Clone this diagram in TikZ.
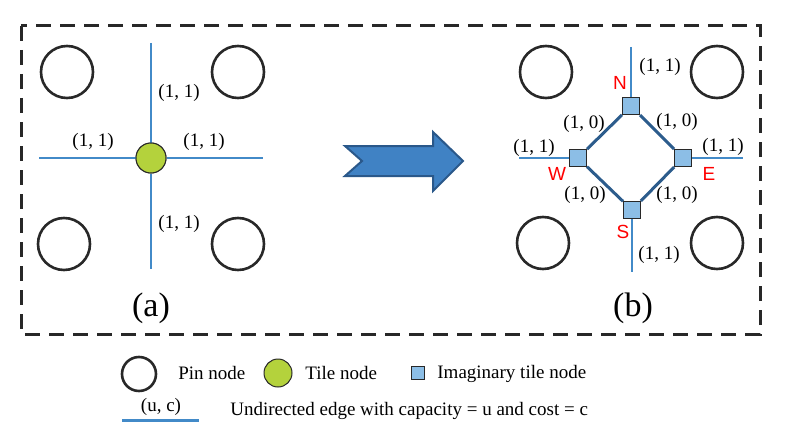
\documentclass[tikz,border=0pt]{standalone}
\usepackage{fontspec}
\setmainfont{Liberation Serif}
\newfontfamily\dirfont{Liberation Sans}
\usepackage{tikz}
\usetikzlibrary{positioning,calc}
\definecolor{edgeblue}{RGB}{66,138,200}
\definecolor{ringblue}{RGB}{44,92,140}
\definecolor{boxblue}{RGB}{140,190,230}
\definecolor{tilegreen}{RGB}{180,210,60}
\definecolor{arrowblue}{RGB}{64,130,196}
\definecolor{arrowrim}{RGB}{42,88,138}
\definecolor{rimgray}{RGB}{40,40,40}
\tikzset{
  pin/.style={circle,draw=rimgray,line width=1.3pt,minimum size=26pt,inner sep=0pt},
  tile/.style={circle,draw=rimgray,line width=0.5pt,fill=tilegreen,minimum size=15pt,inner sep=0pt},
  imag/.style={rectangle,draw=rimgray,line width=0.5pt,fill=boxblue,minimum size=8.5pt,inner sep=0pt},
  edge/.style={draw=edgeblue,line width=1.1pt},
  ring/.style={draw=ringblue,line width=1.5pt},
  weight/.style={font=\fontsize{9.5}{11}\selectfont,inner sep=0pt},
  dir/.style={font=\dirfont\fontsize{9.5}{11}\selectfont,text=red,inner sep=0pt},
  panel/.style={font=\fontsize{17}{19}\selectfont,inner sep=0pt}
}
\begin{document}
\begin{tikzpicture}[x=0.5pt,y=-0.5pt]
\useasboundingbox (0,0) rectangle (791,433);
% frame
\draw[rimgray,line width=1.5pt,dash pattern=on 7.5pt off 4.5pt] (21,26) rectangle (760,334);

% (a)
\node[tile] (t) at (151,158) {};
\coordinate (aN) at (151,43);
\coordinate (aS) at (151,269);
\coordinate (aW) at (39,158);
\coordinate (aE) at (263,158);
\draw[edge] (aN) -- (t) -- (aS);
\draw[edge] (aW) -- (t) -- (aE);
\node[tile] at (t) {};
\node[pin] (p1) at (67,72) {};
\node[pin] (p2) at (238,72) {};
\node[pin] (p3) at (64,244) {};
\node[pin] (p4) at (238,244) {};
\node[weight] at (179,93) {(1, 1)};
\node[weight] at (93,142) {(1, 1)};
\node[weight] at (204,142) {(1, 1)};
\node[weight] at (179,224) {(1, 1)};
\node[panel] at (151,308) {(a)};

% arrow
\draw[fill=arrowblue,draw=arrowrim,line width=1pt,line join=miter]
  (345,146) -- (433,146) -- (433,132) -- (463,161) -- (433,191)
  -- (433,176) -- (345,176) -- (362,161) -- cycle;

% (b)
\node[imag] (n) at (631,106) {};
\node[imag] (w) at (578,158) {};
\node[imag] (e) at (683,158) {};
\node[imag] (s) at (632,210) {};
\coordinate (bN) at (631,47);
\coordinate (bS) at (632,272);
\coordinate (bW) at (519,158);
\coordinate (bE) at (743,158);
\draw[edge] (bN) -- (n);
\draw[edge] (s) -- (bS);
\draw[edge] (bW) -- (w);
\draw[edge] (e) -- (bE);
\draw[ring] (n) -- (w) -- (s) -- (e) -- (n);
\node[imag] at (n) {};
\node[imag] at (w) {};
\node[imag] at (e) {};
\node[imag] at (s) {};
\node[pin] (q1) at (546,72) {};
\node[pin] (q2) at (717,72) {};
\node[pin] (q3) at (543,243) {};
\node[pin] (q4) at (717,243) {};
\node[dir] at (620,83) {N};
\node[dir] at (557,174) {W};
\node[dir] at (709,174) {E};
\node[dir] at (623,232) {S};
\node[weight] at (660,67) {(1, 1)};
\node[weight] at (584,124) {(1, 0)};
\node[weight] at (677,122) {(1, 0)};
\node[weight] at (534,148) {(1, 1)};
\node[weight] at (723,147) {(1, 1)};
\node[weight] at (585,195) {(1, 0)};
\node[weight] at (677,195) {(1, 0)};
\node[weight] at (659,255) {(1, 1)};
\node[panel] at (633,308) {(b)};

% legend
\node[pin,minimum size=17pt] (lp) at (139,374) {};
\node[weight,anchor=west] at (178,373) {Pin node};
\node[tile,minimum size=14pt] (lt) at (278,373) {};
\node[weight,anchor=west] at (305,373) {Tile node};
\node[imag,minimum size=6.5pt] (li) at (418,373) {};
\node[weight,anchor=west] at (437,374) {Imaginary tile node};
\coordinate (le1) at (122,420);
\coordinate (le2) at (199,420);
\draw[edge,line width=1.5pt] (le1) -- (le2);
\node[weight] at (161,407) {(u, c)};
\node[weight,anchor=west] at (230,411) {Undirected edge with capacity = u and cost = c};
\end{tikzpicture}
\end{document}
